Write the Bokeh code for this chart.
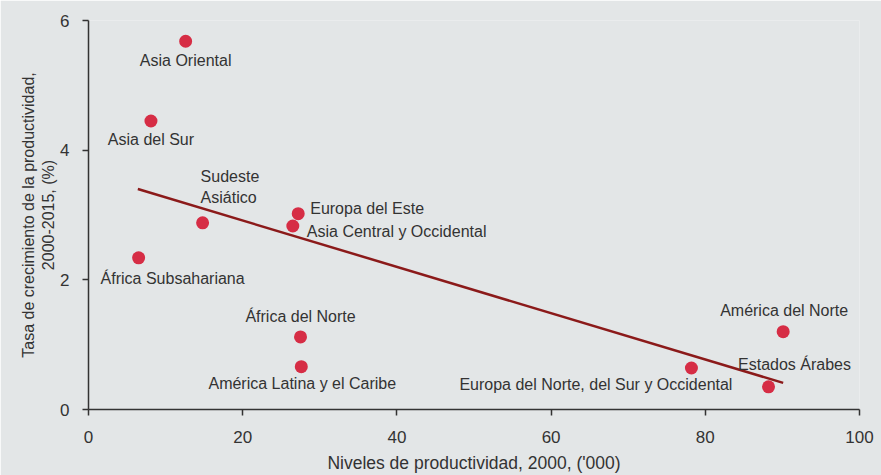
from bokeh.plotting import figure
from bokeh.models import ColumnDataSource, Range1d
from bokeh.embed import file_html
from bokeh.resources import INLINE
from bokeh.core.properties import value

regions = ["Asia Oriental", "Asia del Sur", "Sudeste\nAsiático", "África Subsahariana",
           "Europa del Este", "Asia Central y Occidental", "África del Norte",
           "América Latina y el Caribe", "Europa del Norte, del Sur y Occidental",
           "Estados Árabes", "América del Norte"]
productivity_2000 = [12.6, 8.1, 14.8, 6.5, 27.2, 26.5, 27.5, 27.6, 78.2, 88.2, 90.1]
growth_2000_2015 = [5.68, 4.45, 2.88, 2.34, 3.02, 2.83, 1.12, 0.66, 0.64, 0.35, 1.20]

trend_x = [6.4, 90.1]
trend_y = [3.40, 0.41]

x_ticks = [0, 20, 40, 60, 80, 100]
y_ticks = [0, 2, 4, 6]

# label layout (pixel offsets, alignment) — styling only
label_dx = [0, 0, -2, 34, 12, 14, 0, 1, 41, 26, 1]
label_dy = [19, 19, -17, 21, -5, 5, -20, 17, 16, -22, -21]
label_align = ["center", "center", "left", "center", "left", "left", "center", "center", "right", "center", "center"]
label_base = ["middle", "middle", "bottom", "middle", "middle", "middle", "middle", "middle", "middle", "middle", "middle"]

BG = "#e3e6e7"
TXT = "#333333"
FONT = "Liberation Sans"

p = figure(width=881, height=475, output_backend="svg", toolbar_location=None,
           x_range=Range1d(0, 100), y_range=Range1d(0, 6),
           min_border_left=88, min_border_right=22, min_border_top=20, min_border_bottom=64)
p.background_fill_color = BG
p.border_fill_color = BG
p.outline_line_color = None
p.grid.visible = False

p.line(trend_x, trend_y, line_color="#8b1a1a", line_width=2.5)

src = ColumnDataSource(dict(x=productivity_2000, y=growth_2000_2015, name=regions,
                            dx=label_dx, dy=label_dy, align=label_align, base=label_base))
p.scatter("x", "y", source=src, size=13, fill_color="#d62d45", line_color=None)
p.text("x", "y", text="name", source=src, x_offset="dx", y_offset="dy",
       text_align="align", text_baseline="base", text_font=value(FONT),
       text_font_size="16px", text_color=TXT, text_line_height=1.2)

for ax in (p.xaxis[0], p.yaxis[0]):
    ax.axis_line_color = TXT
    ax.axis_line_width = 1.5
    ax.major_tick_line_color = TXT
    ax.major_tick_line_width = 1.5
    ax.major_tick_out = 6
    ax.major_tick_in = 0
    ax.minor_tick_line_color = None
    ax.major_label_text_font = FONT
    ax.major_label_text_font_size = "17px"
    ax.major_label_text_color = TXT
    ax.axis_label_text_font = FONT
    ax.axis_label_text_font_style = "normal"
    ax.axis_label_text_color = TXT

p.xaxis.ticker = x_ticks
p.yaxis.ticker = y_ticks
p.xaxis.major_label_standoff = 15
p.yaxis.major_label_standoff = 13
p.xaxis.axis_label = "Niveles de productividad, 2000, ('000)"
p.yaxis.axis_label = "Tasa de crecimiento de la productividad,\n2000-2015, (%)"
p.xaxis.axis_label_text_font_size = "17.5px"
p.yaxis.axis_label_text_font_size = "16px"
p.xaxis.axis_label_standoff = 7
p.yaxis.axis_label_standoff = 0

open("out.html", "w").write(file_html(p, INLINE))
